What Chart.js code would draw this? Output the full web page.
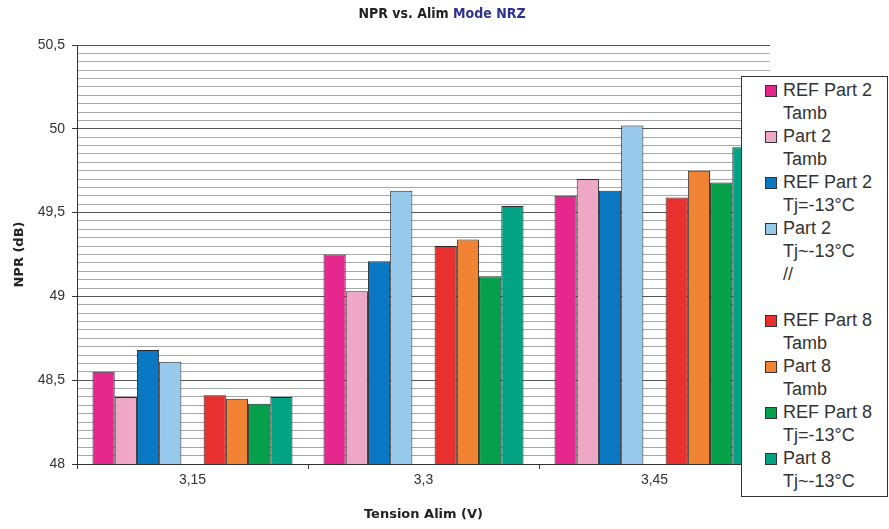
<!DOCTYPE html>
<html>
<head>
<meta charset="utf-8">
<script src="https://cdn.jsdelivr.net/npm/chart.js@4.4.1/dist/chart.umd.min.js"></script>
<style>
body { margin: 0; background: #fff; }
#wrap { position: relative; width: 889px; height: 529px; }
#title { position: absolute; left: 0; top: 5px; width: 884px; text-align: center;
  font: bold 14px "Liberation Sans Narrow", "DejaVu Sans Condensed", sans-serif; color: #222; }
#title span { color: #2e3192; }
#legend { position: absolute; left: 741px; top: 76px; width: 147px; height: 421px; box-sizing: border-box;
  border: 1px solid #333; background: #fff; padding-top: 2px;
  font: 18px "Liberation Sans", Arial, sans-serif; color: #333; line-height: 23px; }
.item { position: relative; padding-left: 41px; height: 46px; white-space: nowrap; }
.swatch { position: absolute; left: 23px; top: 6px; width: 10px; height: 10px; border: 1px solid #333; }
</style>
</head>
<body>
<div id="wrap">
  <canvas id="chart" width="889" height="529"></canvas>
  <div id="title">NPR vs. Alim <span>Mode NRZ</span></div>
  <div id="legend"></div>
</div>
<script>
// values
var categories = ['3,15', '3,3', '3,45'];

var refPart2Tamb = [48.55, 49.25, 49.60];
var part2Tamb    = [48.40, 49.03, 49.70];
var refPart2Tj   = [48.68, 49.21, 49.63];
var part2Tj      = [48.61, 49.63, 50.02];
var gapSeries    = [null, null, null];     // the "//" spacer series, no bars
var refPart8Tamb = [48.41, 49.30, 49.59];
var part8Tamb    = [48.39, 49.34, 49.75];
var refPart8Tj   = [48.36, 49.12, 49.68];
var part8Tj      = [48.40, 49.54, 49.89];

var seriesNames = [
  ['REF Part 2', 'Tamb'], ['Part 2', 'Tamb'], ['REF Part 2', 'Tj=-13°C'], ['Part 2', 'Tj~-13°C'],
  ['//', ''],
  ['REF Part 8', 'Tamb'], ['Part 8', 'Tamb'], ['REF Part 8', 'Tj=-13°C'], ['Part 8', 'Tj~-13°C']
];
var seriesValues = [refPart2Tamb, part2Tamb, refPart2Tj, part2Tj, gapSeries,
                    refPart8Tamb, part8Tamb, refPart8Tj, part8Tj];
var seriesColors = ['#e6288e', '#eea8c6', '#0a78c2', '#97c9ec', null,
                    '#e8302f', '#f08434', '#05a04a', '#00a384'];

var yMin = 48, yMax = 50.5, yStep = 0.05;

function isMajor(v) { return Math.abs(v * 2 - Math.round(v * 2)) < 1e-6; }

var datasets = seriesValues.map(function(vals, i) {
  return {
    label: seriesNames[i].join(' '),
    data: vals,
    backgroundColor: seriesColors[i] || 'rgba(0,0,0,0)',
    borderColor: '#2a2a2a',
    borderWidth: 1,
    categoryPercentage: 0.866,
    barPercentage: 1
  };
});

var tickFont = { family: '"Liberation Sans", Arial, sans-serif', size: 14 };
var axisTitleFont = { family: '"DejaVu Sans", sans-serif', size: 13, weight: 'bold' };

new Chart(document.getElementById('chart'), {
  type: 'bar',
  data: { labels: categories, datasets: datasets },
  options: {
    responsive: false,
    animation: false,
    layout: { padding: { top: 45, right: 119, left: 0, bottom: 0 } },
    plugins: { legend: { display: false }, title: { display: false }, tooltip: { enabled: false } },
    scales: {
      x: {
        grid: { display: true, drawOnChartArea: false, drawTicks: true, tickLength: 5, color: '#333', offset: true },
        border: { color: '#333', width: 1 },
        ticks: { color: '#333', font: tickFont, padding: 3 },
        title: { display: true, text: 'Tension Alim (V)', color: '#222', font: axisTitleFont, padding: { top: 0, bottom: 7 } },
        afterFit: function(scale) { scale.height = 65; }
      },
      y: {
        min: yMin, max: yMax,
        grid: {
          color: function(ctx) { return ctx.tick && isMajor(ctx.tick.value) ? '#555' : '#a8a8a8'; },
          tickColor: function(ctx) { return ctx.tick && isMajor(ctx.tick.value) ? '#333' : 'rgba(0,0,0,0)'; },
          tickLength: 5,
          lineWidth: 1
        },
        border: { color: '#333', width: 1 },
        ticks: {
          stepSize: yStep,
          autoSkip: false,
          color: '#333',
          font: tickFont,
          padding: 7,
          callback: function(v) {
            if (!isMajor(v)) return '';
            return String(Math.round(v * 2) / 2).replace('.', ',');
          }
        },
        title: { display: true, text: 'NPR (dB)', color: '#222', font: axisTitleFont, padding: { top: 12, bottom: 0 } },
        afterFit: function(scale) { scale.width = 77; }
      }
    }
  }
});

// legend drawn as html so it can sit over the plot like the original
var legendEl = document.getElementById('legend');
seriesNames.forEach(function(name, i) {
  var item = document.createElement('div');
  item.className = 'item';
  if (seriesColors[i]) {
    var sw = document.createElement('div');
    sw.className = 'swatch';
    sw.style.background = seriesColors[i];
    item.appendChild(sw);
  }
  var l1 = document.createElement('div');
  l1.textContent = name[0];
  var l2 = document.createElement('div');
  if (name[1]) l2.textContent = name[1];
  else l2.innerHTML = '&nbsp;';
  item.appendChild(l1);
  item.appendChild(l2);
  legendEl.appendChild(item);
});
</script>
</body>
</html>
